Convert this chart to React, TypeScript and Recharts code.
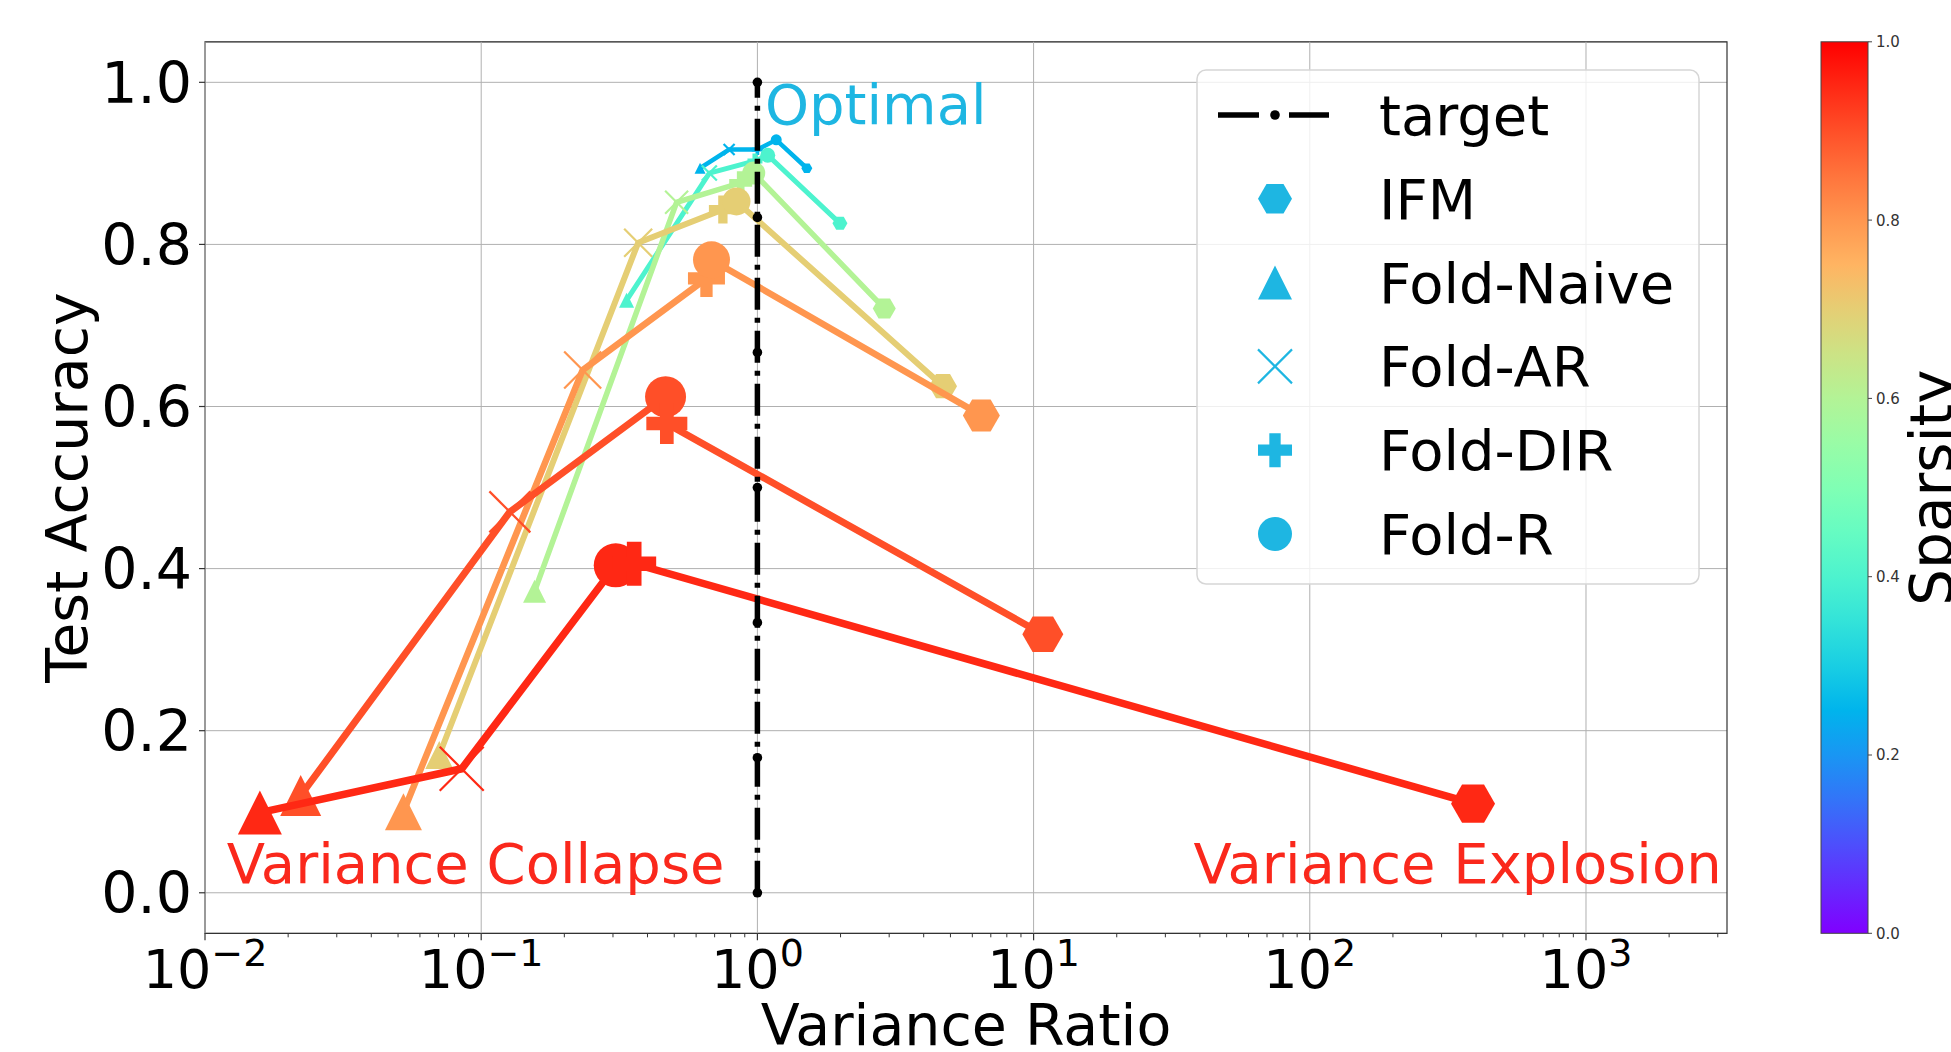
import React from "react";
import {
  ScatterChart,
  Scatter,
  XAxis,
  YAxis,
  CartesianGrid,
  ReferenceLine,
  ReferenceArea,
  ReferenceDot,
} from "recharts";

// sparsity level of each curve (also drives its colour)
const sparsityLevels = [0.25, 0.4, 0.6, 0.7, 0.8, 0.9, 0.95];
const methods = ["IFM", "Fold-Naive", "Fold-AR", "Fold-DIR", "Fold-R"];

// variance ratio / test accuracy per method, one value per sparsity level
const ifmRatio = [1.51, 1.99, 2.88, 4.7, 6.47, 10.8, 390];
const ifmAcc = [0.894, 0.826, 0.721, 0.625, 0.589, 0.319, 0.11];
const naiveRatio = [0.62, 0.336, 0.156, 0.0705, 0.0523, 0.0222, 0.0158];
const naiveAcc = [0.894, 0.731, 0.372, 0.17, 0.1, 0.12, 0.099];
const arRatio = [0.79, 0.67, 0.51, 0.37, 0.233, 0.127, 0.085];
const arAcc = [0.917, 0.888, 0.852, 0.802, 0.645, 0.47, 0.153];
const dirRatio = [1.0, 0.98, 0.87, 0.75, 0.654, 0.47, 0.358];
const dirAcc = [0.917, 0.903, 0.876, 0.843, 0.758, 0.579, 0.406];
const rRatio = [1.17, 1.09, 0.97, 0.84, 0.682, 0.465, 0.307];
const rAcc = [0.929, 0.91, 0.888, 0.853, 0.781, 0.612, 0.404];

const targetRatio = 1;
const targetAcc = [0, 1 / 6, 2 / 6, 3 / 6, 4 / 6, 5 / 6, 1];

const xMajorTicks = [0.01, 0.1, 1, 10, 100, 1000];
const xMinorTicks = [
  0.02, 0.03, 0.04, 0.05, 0.06, 0.07, 0.08, 0.09,
  0.2, 0.3, 0.4, 0.5, 0.6, 0.7, 0.8, 0.9,
  2, 3, 4, 5, 6, 7, 8, 9,
  20, 30, 40, 50, 60, 70, 80, 90,
  200, 300, 400, 500, 600, 700, 800, 900,
  2000, 3000,
];
const yTicks = [0, 0.2, 0.4, 0.6, 0.8, 1.0];
const cbarTicks = [0, 0.2, 0.4, 0.6, 0.8, 1.0];

// styles
const W = 1951;
const H = 1052;
const FONT = "'DejaVu Sans', sans-serif";
const markerSize = [11, 15, 23, 28, 37, 41, 44];
const lineWidth = [4.5, 5, 5.5, 6, 6.5, 7, 7.5];
const legendColor = "#1eb6e2";
const annRed = "rgb(250,40,28)";
const plotTop = 41.8;
const plotBottom = 933.3;

// matplotlib "rainbow" colormap
function rainbow(t: number) {
  const c = (v: number) => Math.round(Math.max(0, Math.min(1, v)) * 255);
  const r = Math.abs(2 * t - 0.5);
  const g = Math.sin(Math.PI * t);
  const b = Math.cos((Math.PI * t) / 2);
  return `rgb(${c(r)},${c(g)},${c(b)})`;
}

type Pt = { x: number; y: number; m: string };

const seriesData: Pt[][] = sparsityLevels.map((_, i) => {
  const pts: Pt[] = [
    { x: ifmRatio[i], y: ifmAcc[i], m: methods[0] },
    { x: naiveRatio[i], y: naiveAcc[i], m: methods[1] },
    { x: arRatio[i], y: arAcc[i], m: methods[2] },
    { x: dirRatio[i], y: dirAcc[i], m: methods[3] },
    { x: rRatio[i], y: rAcc[i], m: methods[4] },
  ];
  return pts.sort((a, b) => a.x - b.x);
});

const targetData = targetAcc.map((y) => ({ x: targetRatio, y }));

function Marker({ m, cx, cy, size, color }: { m: string; cx: number; cy: number; size: number; color: string }) {
  const r = size / 2;
  if (m === "IFM") {
    const pts = [0, 1, 2, 3, 4, 5]
      .map((k) => {
        const a = (k * Math.PI) / 3;
        return `${cx + r * Math.cos(a)},${cy + r * Math.sin(a)}`;
      })
      .join(" ");
    return <polygon points={pts} fill={color} />;
  }
  if (m === "Fold-Naive") {
    return <polygon points={`${cx},${cy - r} ${cx - r},${cy + r} ${cx + r},${cy + r}`} fill={color} />;
  }
  if (m === "Fold-AR") {
    return (
      <g stroke={color} strokeWidth={2.2}>
        <line x1={cx - r} y1={cy - r} x2={cx + r} y2={cy + r} />
        <line x1={cx - r} y1={cy + r} x2={cx + r} y2={cy - r} />
      </g>
    );
  }
  if (m === "Fold-DIR") {
    const a = r / 3;
    const p = [
      [-a, -r], [a, -r], [a, -a], [r, -a], [r, a], [a, a],
      [a, r], [-a, r], [-a, a], [-r, a], [-r, -a], [-a, -a],
    ]
      .map(([dx, dy]) => `${cx + dx},${cy + dy}`)
      .join(" ");
    return <polygon points={p} fill={color} />;
  }
  return <circle cx={cx} cy={cy} r={r} fill={color} />;
}

const majorSet = new Set(xMajorTicks);

function XTick(props: any) {
  const { x, y, payload } = props;
  const v = payload.value;
  if (!majorSet.has(v)) {
    return <line x1={x} x2={x} y1={y} y2={y + 4} stroke="#333" strokeWidth={1} />;
  }
  const exp = Math.round(Math.log10(v));
  return (
    <g>
      <line x1={x} x2={x} y1={y} y2={y + 7} stroke="#333" strokeWidth={1.2} />
      <text x={x} y={y + 55} textAnchor="middle" fontFamily={FONT} fontSize={54} fill="#000">
        10
        <tspan dy={-22} fontSize={38}>
          {exp < 0 ? `\u2212${-exp}` : `${exp}`}
        </tspan>
      </text>
    </g>
  );
}

function YTick(props: any) {
  const { x, y, payload } = props;
  return (
    <g>
      <line x1={x - 6} x2={x} y1={y} y2={y} stroke="#333" strokeWidth={1.2} />
      <text x={x - 13} y={y} dy="0.36em" textAnchor="end" fontFamily={FONT} fontSize={57} fill="#000">
        {Number(payload.value).toFixed(1)}
      </text>
    </g>
  );
}

const annotation = (text: string, color: string, anchor: "start" | "end") => (props: any) => {
  const vb = props.viewBox || {};
  return (
    <text x={vb.x} y={vb.y} textAnchor={anchor} fill={color} fontSize={56} fontFamily={FONT}>
      {text}
    </text>
  );
};

function Overlay() {
  const legendTop = 115;
  const legendStep = 83.8;
  const cbX = 1821;
  const cbW = 47;
  const cbH = plotBottom - plotTop;
  const stops = Array.from({ length: 21 }, (_, k) => k / 20);
  return (
    <svg width={W} height={H} style={{ position: "absolute", left: 0, top: 0, pointerEvents: "none" }}>
      {/* axis titles */}
      <text x={966} y={1045} textAnchor="middle" fontFamily={FONT} fontSize={57} fill="#000">
        Variance Ratio
      </text>
      <text
        transform={`translate(87, ${(plotTop + plotBottom) / 2}) rotate(-90)`}
        textAnchor="middle"
        fontFamily={FONT}
        fontSize={57}
        fill="#000"
      >
        Test Accuracy
      </text>

      {/* legend */}
      <rect x={1197} y={70} width={502} height={514} rx={9} fill="#fff" fillOpacity={0.8} stroke="#d6d6d6" strokeWidth={1.5} />
      <g>
        <line x1={1218} x2={1259} y1={legendTop} y2={legendTop} stroke="#000" strokeWidth={5.5} />
        <circle cx={1275} cy={legendTop} r={4.8} fill="#000" />
        <line x1={1289} x2={1329} y1={legendTop} y2={legendTop} stroke="#000" strokeWidth={5.5} />
        <text x={1379} y={legendTop + 20} fontFamily={FONT} fontSize={56} fill="#000">
          target
        </text>
      </g>
      {methods.map((m, i) => {
        const cy = legendTop + legendStep * (i + 1);
        return (
          <g key={m}>
            <Marker m={m} cx={1275} cy={cy} size={34} color={legendColor} />
            <text x={1379} y={cy + 20} fontFamily={FONT} fontSize={56} fill="#000">
              {m}
            </text>
          </g>
        );
      })}

      {/* colorbar */}
      <defs>
        <linearGradient id="cbar" x1="0" y1="1" x2="0" y2="0">
          {stops.map((t) => (
            <stop key={t} offset={t} stopColor={rainbow(t)} />
          ))}
        </linearGradient>
      </defs>
      <rect x={cbX} y={plotTop} width={cbW} height={cbH} fill="url(#cbar)" stroke="#444" strokeWidth={1} />
      {cbarTicks.map((t) => {
        const y = plotBottom - t * cbH;
        return (
          <g key={t}>
            <line x1={cbX + cbW} x2={cbX + cbW + 4} y1={y} y2={y} stroke="#444" strokeWidth={1} />
            <text x={cbX + cbW + 8} y={y} dy="0.36em" fontFamily={FONT} fontSize={15} fill="#333">
              {t.toFixed(1)}
            </text>
          </g>
        );
      })}
      <text
        transform={`translate(1952, ${(plotTop + plotBottom) / 2}) rotate(-90)`}
        textAnchor="middle"
        fontFamily={FONT}
        fontSize={58}
        fill="#000"
      >
        Sparsity
      </text>
    </svg>
  );
}

export default function App() {
  return (
    <div style={{ position: "absolute", left: 0, top: 0, width: W, height: H, background: "#fff", overflow: "hidden" }}>
      <ScatterChart width={W} height={H} margin={{ top: plotTop, right: 224, bottom: 0, left: 0 }}>
        <CartesianGrid vertical={false} stroke="#b0b0b0" strokeWidth={1} />
        {xMajorTicks.map((t) => (
          <ReferenceLine key={t} x={t} stroke="#b0b0b0" strokeWidth={1} />
        ))}
        <XAxis
          dataKey="x"
          type="number"
          scale="log"
          domain={[0.01, 3240]}
          allowDataOverflow
          ticks={[...xMajorTicks, ...xMinorTicks]}
          interval={0}
          tickLine={false}
          axisLine={false}
          tickSize={0}
          tickMargin={0}
          height={H - plotBottom}
          tick={<XTick />}
        />
        <YAxis
          dataKey="y"
          type="number"
          domain={[-0.05, 1.05]}
          allowDataOverflow
          ticks={yTicks}
          interval={0}
          tickLine={false}
          axisLine={false}
          tickSize={0}
          tickMargin={0}
          width={205}
          tick={<YTick />}
        />
        {seriesData.map((pts, i) => {
          const color = rainbow(sparsityLevels[i]);
          return (
            <Scatter
              key={sparsityLevels[i]}
              data={pts}
              dataKey="y"
              fill={color}
              line={{ stroke: color, strokeWidth: lineWidth[i] }}
              lineType="joint"
              isAnimationActive={false}
              shape={(p: any) => (
                <Marker m={p.payload.m} cx={p.cx} cy={p.cy} size={markerSize[i]} color={color} />
              )}
            />
          );
        })}
        <Scatter
          data={targetData}
          dataKey="y"
          fill="#000"
          line={{ stroke: "#000", strokeWidth: 5.5, strokeDasharray: "32 8 5 8" }}
          lineType="joint"
          isAnimationActive={false}
          shape={(p: any) => <circle cx={p.cx} cy={p.cy} r={4.8} fill="#000" />}
        />
        <ReferenceArea x1={0.01} x2={3240} y1={-0.05} y2={1.05} fill="none" fillOpacity={0} stroke="#333" strokeWidth={1.2} />
        <ReferenceDot x={1.065} y={0.949} r={0} fill="none" stroke="none" label={annotation("Optimal", legendColor, "start")} />
        <ReferenceDot x={0.012} y={0.012} r={0} fill="none" stroke="none" label={annotation("Variance Collapse", annRed, "start")} />
        <ReferenceDot x={3100} y={0.012} r={0} fill="none" stroke="none" label={annotation("Variance Explosion", annRed, "end")} />
      </ScatterChart>
      <Overlay />
    </div>
  );
}
